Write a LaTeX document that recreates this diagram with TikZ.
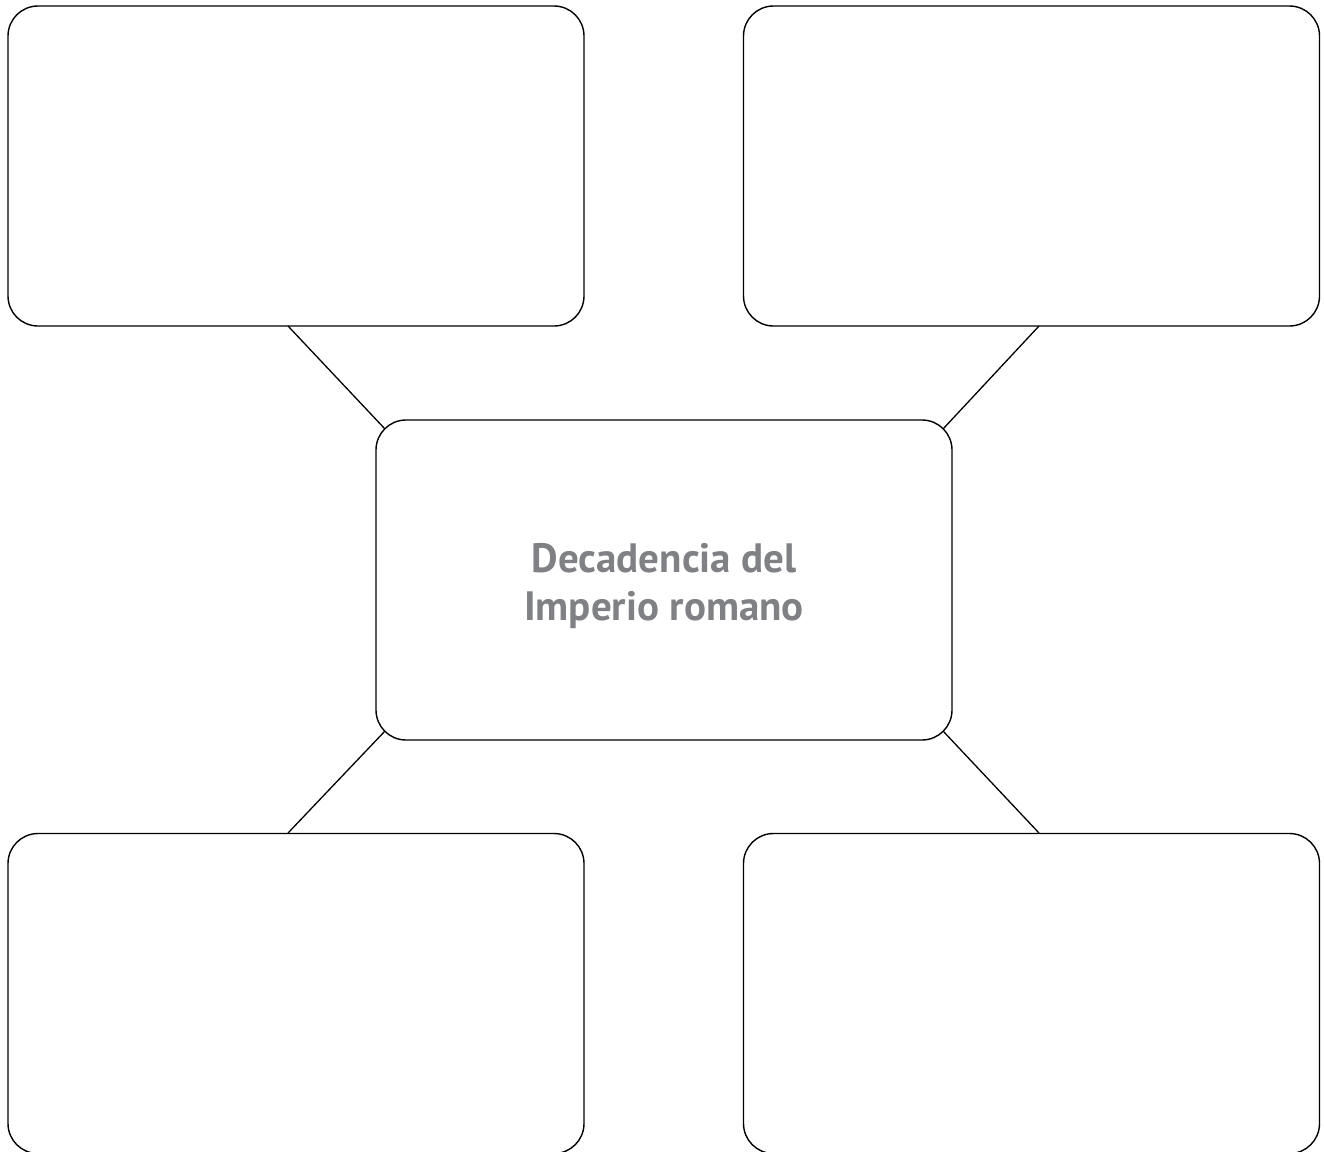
\documentclass[tikz,border=0pt]{standalone}
\usepackage{fontspec}
\setmainfont{PT Sans}
\definecolor{titlegray}{HTML}{808184}
\begin{document}
\begin{tikzpicture}[x=1pt,y=-1pt,
  box/.style={draw=black,line width=1.4pt,rounded corners=30pt,minimum width=576pt,minimum height=320pt,inner sep=0pt},
  link/.style={draw=black,line width=1.3pt},
  title/.style={align=center,font=\fontsize{41}{48}\selectfont\bfseries,text=titlegray,inner sep=0pt}]
\useasboundingbox (0,0) rectangle (1324,1151);
\begin{scope}
\clip (0,0) rectangle (1324,1151);
\node[box] (tl) at (296,166) {};
\node[box] (tr) at (1031.5,166) {};
\node[box] (c) at (664,580) {};
\node[box] (bl) at (296,993.5) {};
\node[box] (br) at (1031.5,993.5) {};
\end{scope}
\node[title] (ct) at ([yshift=-6pt]c.center) {Decadencia del\\Imperio romano};
\coordinate (a1) at (288,326);
\coordinate (a2) at (1039,326);
\coordinate (a3) at (288,833);
\coordinate (a4) at (1039,833);
\coordinate (c1) at (385,429);
\coordinate (c2) at (943,429);
\coordinate (c3) at (385,731);
\coordinate (c4) at (943,731);
\draw[link] (a1) -- (c1);
\draw[link] (a2) -- (c2);
\draw[link] (a3) -- (c3);
\draw[link] (a4) -- (c4);
\end{tikzpicture}
\end{document}
